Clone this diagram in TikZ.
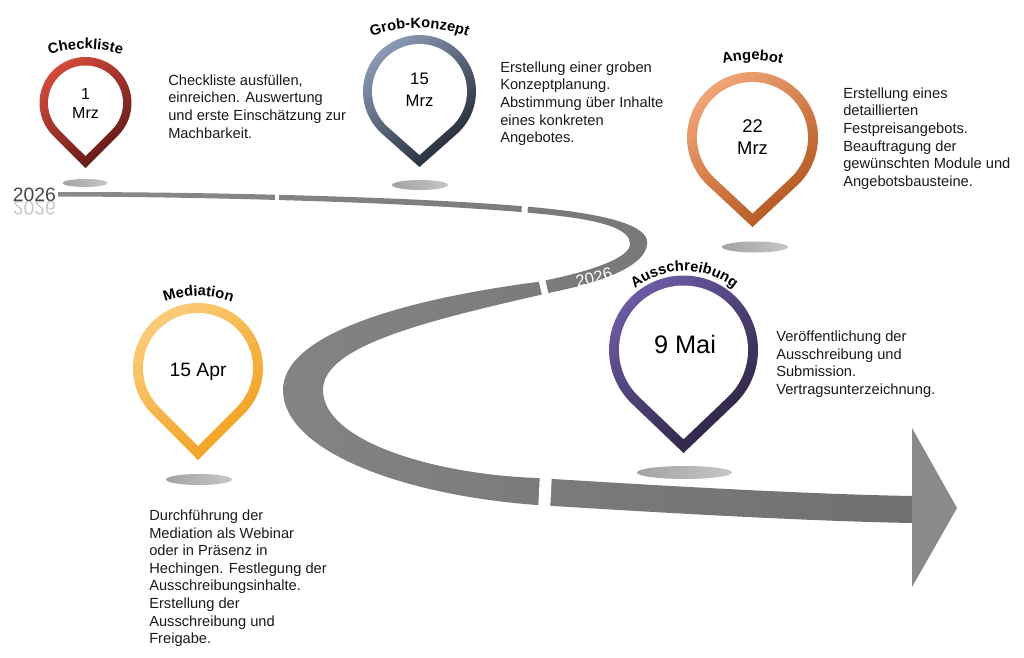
\documentclass[tikz,border=0pt]{standalone}
\usepackage{fontspec}
\setmainfont{Liberation Sans}
\usepackage{graphicx}
\usetikzlibrary{decorations.text}

\definecolor{redA}{HTML}{D64B3B}
\definecolor{redB}{HTML}{5C1818}
\definecolor{blueA}{HTML}{8E9EB9}
\definecolor{blueB}{HTML}{1E2430}
\definecolor{orangeA}{HTML}{F3A679}
\definecolor{orangeB}{HTML}{B1541C}
\definecolor{yellowA}{HTML}{FBCD7C}
\definecolor{yellowB}{HTML}{F19F1C}
\definecolor{purpleA}{HTML}{6D5CA6}
\definecolor{purpleB}{HTML}{2B223F}
\definecolor{roadA}{HTML}{8A8A8A}
\definecolor{roadB}{HTML}{707070}
\definecolor{roadC}{HTML}{8A8A8A}
\definecolor{shadowA}{HTML}{A3A3A3}
\definecolor{shadowB}{HTML}{C6C6C6}
\definecolor{textgray}{HTML}{1A1A1A}

\newcommand{\titlefont}{\bfseries\fontsize{11}{13}\selectfont}

\begin{document}
\begin{tikzpicture}[x=0.75pt, y=-0.75pt, % one unit = one pixel, y downwards
	every node/.style={inner sep=0pt, text=textgray},
	info/.style={anchor=north west, align=left, font=\fontsize{11}{13.2}\selectfont},
	date/.style={align=center, text=black},
	title/.style={decorate, decoration={text along path, text align=center, text color=black, text={|\titlefont|#1}}},
	shadow/.style={left color=shadowA, right color=shadowB}]
	\useasboundingbox (0,0) rectangle (1024,657);

	% road
	\shade[left color=roadA, right color=roadB] (58,192)
		.. controls (250,192) and (470,199) .. (560,210)
		.. controls (625,218) and (650,230) .. (647,245)
		.. controls (644,264) and (612,280) .. (553,292)
		.. controls (430,320) and (323,345) .. (323,390)
		.. controls (323,440) and (430,474) .. (537,478)
		.. controls (650,485) and (800,494) .. (912,496)
		-- (912,523)
		.. controls (800,521) and (650,512) .. (537,505)
		.. controls (400,495) and (283,450) .. (283,390)
		.. controls (283,335) and (400,300) .. (537,282)
		.. controls (590,272) and (630,258) .. (630,244)
		.. controls (630,231) and (610,222) .. (560,216)
		.. controls (470,205) and (250,197) .. (58,196.5) -- cycle;
	\draw[white, line width=3pt] (277,188) -- (277,203);
	\draw[white, line width=4.5pt] (525,198) -- (524.5,218);
	\draw[white, line width=5pt] (541,276) -- (547,302);
	\draw[white, line width=9pt] (546,472) -- (544,512);
	\fill[roadC] (912,428) -- (957,508) -- (912,587) -- cycle;

	% shadows under the pins
	\shade[shadow] (85,183) ellipse [x radius=22.5, y radius=4];
	\shade[shadow] (420,185) ellipse [x radius=28, y radius=5];
	\shade[shadow] (755,247) ellipse [x radius=33, y radius=5.5];
	\shade[shadow] (199,479.5) ellipse [x radius=33, y radius=5.5];
	\shade[shadow] (684.5,472.5) ellipse [x radius=47.5, y radius=6.5];

	% pins: x/y/radius/tip/ring/colours
	\foreach \px/\py/\rad/\tip/\ring/\cola/\colb in {85.5/103/46/65/8.5/redA/redB,
		419.5/91.5/56.5/75.5/9/blueA/blueB, 752.5/137.5/65.5/89.5/10/orangeA/orangeB,
		198/368/65/92/10/yellowA/yellowB, 683.5/350/74.5/103/10/purpleA/purpleB}{
		\pgfmathsetmacro\ang{acos(\rad/\tip)}
		\pgfmathsetmacro\radi{\rad-\ring}
		\pgfmathsetmacro\tipi{\tip*\radi/\rad}
		\shade[top color=\cola, bottom color=\colb, shading angle=40] (\px,\py) ++(90-\ang:\rad)
			arc[start angle=90-\ang, end angle=-270+\ang, radius=\rad] -- (\px,{\py+\tip}) -- cycle;
		\fill[white] (\px,\py) ++(90-\ang:\radi)
			arc[start angle=90-\ang, end angle=-270+\ang, radius=\radi] -- (\px,{\py+\tipi}) -- cycle;
	}

	% titles on arcs
	\path[title=Checkliste] (85.5,169) ++(-130:120) arc[start angle=-130, end angle=-50, radius=120];
	\path[title=Grob-Konzept] (419.5,168) ++(-130:140) arc[start angle=-130, end angle=-50, radius=140];
	\path[title=Angebot] (752.5,175) ++(-130:115) arc[start angle=-130, end angle=-50, radius=115];
	\path[title=Mediation] (198.5,393) ++(-135:97) arc[start angle=-135, end angle=-45, radius=97];
	\path[title=Ausschreibung] (684.5,350) ++(-150:79) arc[start angle=-150, end angle=-30, radius=79];

	% dates
	\node[date, font=\fontsize{12}{14.3}\selectfont] (m1) at (85.5,103.5) {1\\Mrz};
	\node[date, font=\fontsize{12.5}{16.5}\selectfont] (m2) at (419.5,90) {15\\Mrz};
	\node[date, font=\fontsize{13.8}{16.5}\selectfont] (m3) at (752.5,137.5) {22\\Mrz};
	\node[date, font=\fontsize{14.5}{17}\selectfont] (m4) at (198,372) {15 Apr};
	\node[date, font=\fontsize{19}{22}\selectfont] (m5) at (685,344) {9 Mai};

	% years
	\node[font=\fontsize{14.5}{17}\selectfont, text=black!72] (y1) at (34.5,194.5) {2026};
	\node[font=\fontsize{14.5}{17}\selectfont, text=black!22] (y1r) at (34.5,208.5) {\scalebox{1}[-1]{2026}};
	\node[font=\fontsize{12.5}{15}\selectfont, text=white, rotate=14] (y2) at (594,277.5) {2026};

	% descriptions
	\node[info] (t1) at (168,74.5) {Checkliste ausfüllen,\\einreichen. Auswertung\\und erste Einschätzung zur\\Machbarkeit.};
	\node[info] (t2) at (500,61.5) {Erstellung einer groben\\Konzeptplanung.\\Abstimmung über Inhalte\\eines konkreten\\Angebotes.};
	\node[info] (t3) at (843,87.5) {Erstellung eines\\detaillierten\\Festpreisangebots.\\Beauftragung der\\gewünschten Module und\\Angebotsbausteine.};
	\node[info] (t4) at (776,330.5) {Veröffentlichung der\\Ausschreibung und\\Submission.\\Vertragsunterzeichnung.};
	\node[info] (t5) at (149,509.5) {Durchführung der\\Mediation als Webinar\\oder in Präsenz in\\Hechingen. Festlegung der\\Ausschreibungsinhalte.\\Erstellung der\\Ausschreibung und\\Freigabe.};

\end{tikzpicture}
\end{document}
